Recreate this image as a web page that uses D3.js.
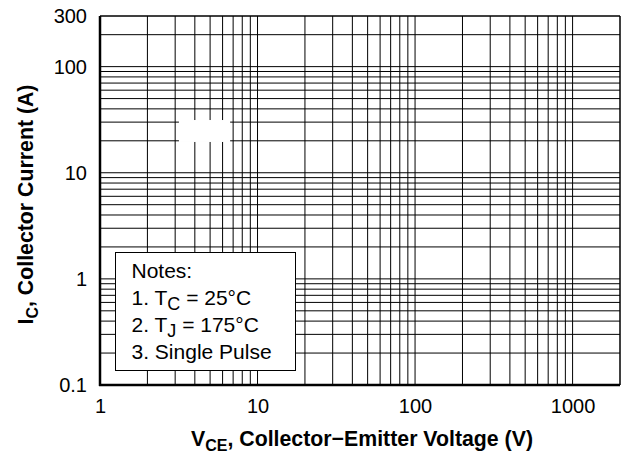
<!DOCTYPE html>
<html>
<head>
<meta charset="utf-8">
<script src="https://cdn.jsdelivr.net/npm/d3@7"></script>
<style>
  body { margin: 0; background: #fff; }
  svg text { font-family: Arial, "Liberation Sans", Helvetica, sans-serif; fill: #000; }
</style>
</head>
<body>
<div id="chart"></div>
<script>
// Safe operating area grid (log-log), curves left blank

// axis domains
const xDomain = [1, 2000];
const yDomain = [0.1, 300];

// tick labels shown on each axis
const xTickValues = [1, 10, 100, 1000];
const yTickValues = [0.1, 1, 10, 100, 300];

// white mask left over from a removed label (data units)
const maskX = [3.17, 6.7];
const maskY = [19.5, 31.4];

// notes box lines: [prefix, subscript, suffix]
const notes = [
    ["Notes:", "", ""],
    ["1. T", "C", " = 25°C"],
    ["2. T", "J", " = 175°C"],
    ["3. Single Pulse", "", ""]
];

const width = 621;
const height = 457;
const margin = { top: 16, right: 1, bottom: 72, left: 100 };

const x = d3.scaleLog()
    .domain(xDomain)
    .range([margin.left, width - margin.right]);

const y = d3.scaleLog()
    .domain(yDomain)
    .range([height - margin.bottom, margin.top]);

// every 1..9 multiple of each decade inside the domain
function logGrid(domain) {
    const out = [];
    for (let p = Math.floor(Math.log10(domain[0])); p <= Math.ceil(Math.log10(domain[1])); p++) {
        for (let m = 1; m <= 9; m++) {
            const v = m * Math.pow(10, p);
            if (v >= domain[0] * 0.999 && v <= domain[1] * 1.001) out.push(v);
        }
    }
    return out;
}

const svg = d3.select("#chart").append("svg")
    .attr("width", width)
    .attr("height", height);

// vertical grid lines
svg.append("g")
    .selectAll("line")
    .data(logGrid(xDomain).concat([xDomain[1]]))
    .join("line")
    .attr("x1", d => x(d))
    .attr("x2", d => x(d))
    .attr("y1", y(yDomain[0]))
    .attr("y2", y(yDomain[1]))
    .attr("stroke", "#000")
    .attr("stroke-width", 1);

// horizontal grid lines
svg.append("g")
    .selectAll("line")
    .data(logGrid(yDomain).concat([yDomain[1]]))
    .join("line")
    .attr("x1", x(xDomain[0]))
    .attr("x2", x(xDomain[1]))
    .attr("y1", d => y(d))
    .attr("y2", d => y(d))
    .attr("stroke", "#000")
    .attr("stroke-width", 1);

// mask
svg.append("rect")
    .attr("x", x(maskX[0]))
    .attr("y", y(maskY[1]))
    .attr("width", x(maskX[1]) - x(maskX[0]))
    .attr("height", y(maskY[0]) - y(maskY[1]))
    .attr("fill", "#fff");

// heavy left and bottom frame
svg.append("line")
    .attr("x1", x(xDomain[0])).attr("x2", x(xDomain[0]))
    .attr("y1", y(yDomain[1])).attr("y2", y(yDomain[0]) + 1)
    .attr("stroke", "#000").attr("stroke-width", 2.5);
svg.append("line")
    .attr("x1", x(xDomain[0]) - 1).attr("x2", x(xDomain[1]))
    .attr("y1", y(yDomain[0])).attr("y2", y(yDomain[0]))
    .attr("stroke", "#000").attr("stroke-width", 2.5);

// axes (labels only)
const xAxis = svg.append("g")
    .attr("transform", `translate(0,${y(yDomain[0])})`)
    .call(d3.axisBottom(x).tickValues(xTickValues).tickSize(0).tickPadding(14).tickFormat(d3.format("")));
const yAxis = svg.append("g")
    .attr("transform", `translate(${x(xDomain[0])},0)`)
    .call(d3.axisLeft(y).tickValues(yTickValues).tickSize(0).tickPadding(13).tickFormat(d => String(d)));
[xAxis, yAxis].forEach(g => {
    g.select(".domain").remove();
    g.selectAll("text").attr("font-size", 20).attr("font-family", null);
});

// notes box
const notesG = svg.append("g").attr("transform", "translate(115.5,252.5)");
notesG.append("rect")
    .attr("width", 180)
    .attr("height", 118)
    .attr("fill", "#fff")
    .attr("stroke", "#000")
    .attr("stroke-width", 1);
const noteText = notesG.append("g")
    .selectAll("text")
    .data(notes)
    .join("text")
    .attr("x", 16)
    .attr("y", (d, i) => 25 + i * 27)
    .attr("font-size", 21);
noteText.append("tspan").text(d => d[0]);
noteText.append("tspan").attr("font-size", 18).attr("dy", 5).text(d => d[1]);
noteText.append("tspan").attr("dy", d => d[1] ? -5 : 0).text(d => d[2]);

// axis titles
const xTitle = svg.append("text")
    .attr("x", (x(xDomain[0]) + x(xDomain[1])) / 2 + 2)
    .attr("y", 446)
    .attr("text-anchor", "middle")
    .attr("font-size", 21.3)
    .attr("font-weight", "bold");
xTitle.append("tspan").text("V");
xTitle.append("tspan").attr("font-size", 16).attr("dy", 5).text("CE");
xTitle.append("tspan").attr("dy", -5).text(", Collector\u2212Emitter Voltage (V)");

const yTitle = svg.append("text")
    .attr("transform", `translate(33,${(y(yDomain[0]) + y(yDomain[1])) / 2 + 4}) rotate(-90)`)
    .attr("text-anchor", "middle")
    .attr("font-size", 21.3)
    .attr("font-weight", "bold");
yTitle.append("tspan").text("I");
yTitle.append("tspan").attr("font-size", 16).attr("dy", 5).text("C");
yTitle.append("tspan").attr("dy", -5).text(", Collector Current (A)");
</script>
</body>
</html>
